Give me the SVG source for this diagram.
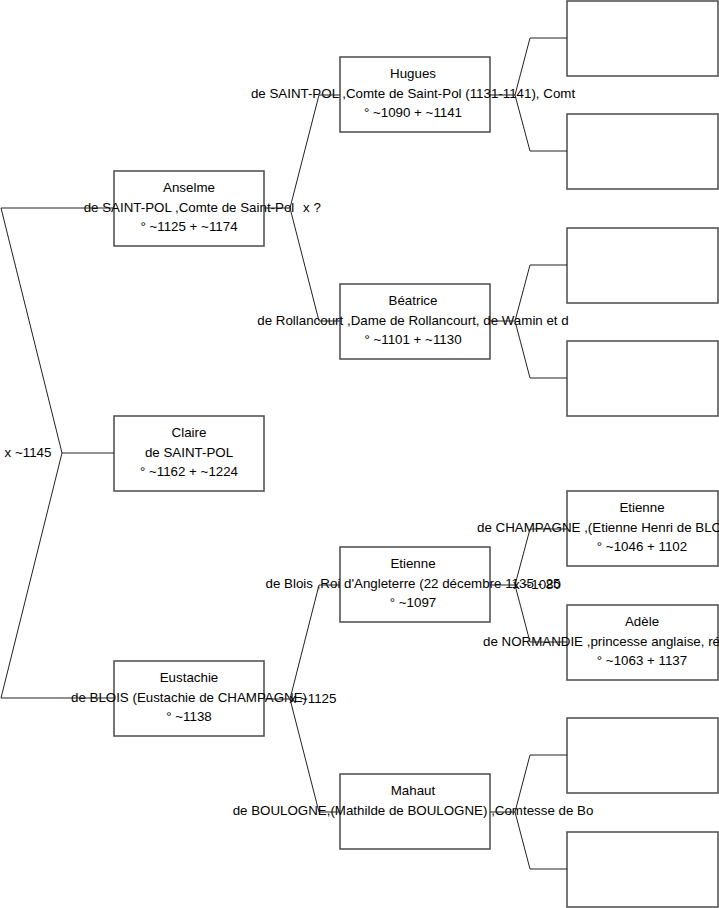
<svg xmlns="http://www.w3.org/2000/svg" width="719" height="908" viewBox="0 0 719 908">
<style>
.box{fill:#fff;stroke:#555;stroke-width:1.6}
.t{font-family:"Liberation Sans",Arial,sans-serif;font-size:13.33px;fill:#000;text-anchor:middle}
.s{text-anchor:start}
.c{fill:none;stroke:#222;stroke-width:1}
</style>
<rect width="719" height="908" fill="#fff"/>
<g id="anselme"><rect class="box" x="114" y="171" width="150" height="75"/>
<text class="t" x="189" y="192">Anselme</text><text class="t" x="189" y="212">de SAINT-POL ,Comte de Saint-Pol</text><text class="t" x="189" y="231">° ~1125 + ~1174</text></g>
<g id="claire"><rect class="box" x="114" y="416" width="150" height="75"/>
<text class="t" x="189" y="437">Claire</text><text class="t" x="189" y="457">de SAINT-POL</text><text class="t" x="189" y="476">° ~1162 + ~1224</text></g>
<g id="eustachie"><rect class="box" x="114" y="661" width="150" height="75"/>
<text class="t" x="189" y="682">Eustachie</text><text class="t" x="189" y="702">de BLOIS (Eustachie de CHAMPAGNE)</text><text class="t" x="189" y="721">° ~1138</text></g>
<g id="hugues"><rect class="box" x="340" y="57" width="150" height="75"/>
<text class="t" x="413" y="78">Hugues</text><text class="t" x="413" y="98">de SAINT-POL ,Comte de Saint-Pol (1131-1141), Comt</text><text class="t" x="413" y="117">° ~1090 + ~1141</text></g>
<g id="beatrice"><rect class="box" x="340" y="284" width="150" height="75"/>
<text class="t" x="413" y="305">Béatrice</text><text class="t" x="413" y="325">de Rollancourt ,Dame de Rollancourt, de Wamin et d</text><text class="t" x="413" y="344">° ~1101 + ~1130</text></g>
<g id="etienne-blois"><rect class="box" x="340" y="547" width="150" height="75"/>
<text class="t" x="413" y="568">Etienne</text><text class="t" x="413" y="588">de Blois ,Roi d'Angleterre (22 décembre 1135 - 25</text><text class="t" x="413" y="607">° ~1097</text></g>
<g id="mahaut"><rect class="box" x="340" y="774" width="150" height="75"/>
<text class="t" x="413" y="795">Mahaut</text><text class="t" x="413" y="815">de BOULOGNE,(Mathilde de BOULOGNE) ,Comtesse de Bo</text></g>
<g id="hugues-father"><rect class="box" x="567" y="1" width="151" height="75"/></g>
<g id="hugues-mother"><rect class="box" x="567" y="114" width="151" height="75"/></g>
<g id="beatrice-father"><rect class="box" x="567" y="228" width="151" height="75"/></g>
<g id="beatrice-mother"><rect class="box" x="567" y="341" width="151" height="75"/></g>
<g id="etienne-champagne"><rect class="box" x="567" y="491" width="151" height="75"/>
<text class="t" x="642" y="512">Etienne</text><text class="t s" x="477" y="532">de CHAMPAGNE ,(Etienne Henri de BLO</text><text class="t" x="642" y="551">° ~1046 + 1102</text></g>
<g id="adele"><rect class="box" x="567" y="605" width="151" height="75"/>
<text class="t" x="642" y="626">Adèle</text><text class="t s" x="483" y="646">de NORMANDIE ,princesse anglaise, ré</text><text class="t" x="642" y="665">° ~1063 + 1137</text></g>
<g id="mahaut-father"><rect class="box" x="567" y="718" width="151" height="75"/></g>
<g id="mahaut-mother"><rect class="box" x="567" y="832" width="151" height="75"/></g>
<g id="connectors">
<polyline class="c" points="114,208 1,208 62,453 1,698 114,698"/>
<line class="c" x1="62" y1="453" x2="114" y2="453"/>
<polyline class="c" points="340,95 319,95 290,208 319,321 340,321"/>
<line class="c" x1="264" y1="208" x2="290" y2="208"/>
<polyline class="c" points="567,38 530,38 515,95 530,151 567,151"/>
<line class="c" x1="490" y1="95" x2="515" y2="95"/>
<polyline class="c" points="567,265 530,265 515,321 530,378 567,378"/>
<line class="c" x1="490" y1="321" x2="515" y2="321"/>
<polyline class="c" points="340,585 319,585 290,699 319,812 340,812"/>
<line class="c" x1="264" y1="699" x2="290" y2="699"/>
<polyline class="c" points="567,529 530,529 515,585 530,642 567,642"/>
<line class="c" x1="490" y1="585" x2="515" y2="585"/>
<polyline class="c" points="567,755 530,755 515,812 530,869 567,869"/>
<line class="c" x1="490" y1="812" x2="515" y2="812"/>
<text class="t" x="28" y="457">x ~1145</text>
<text class="t" x="312" y="212">x ?</text>
<text class="t" x="313" y="703">x ~1125</text>
<text class="t" x="537" y="589">x ~1080</text>
</g>
</svg>
